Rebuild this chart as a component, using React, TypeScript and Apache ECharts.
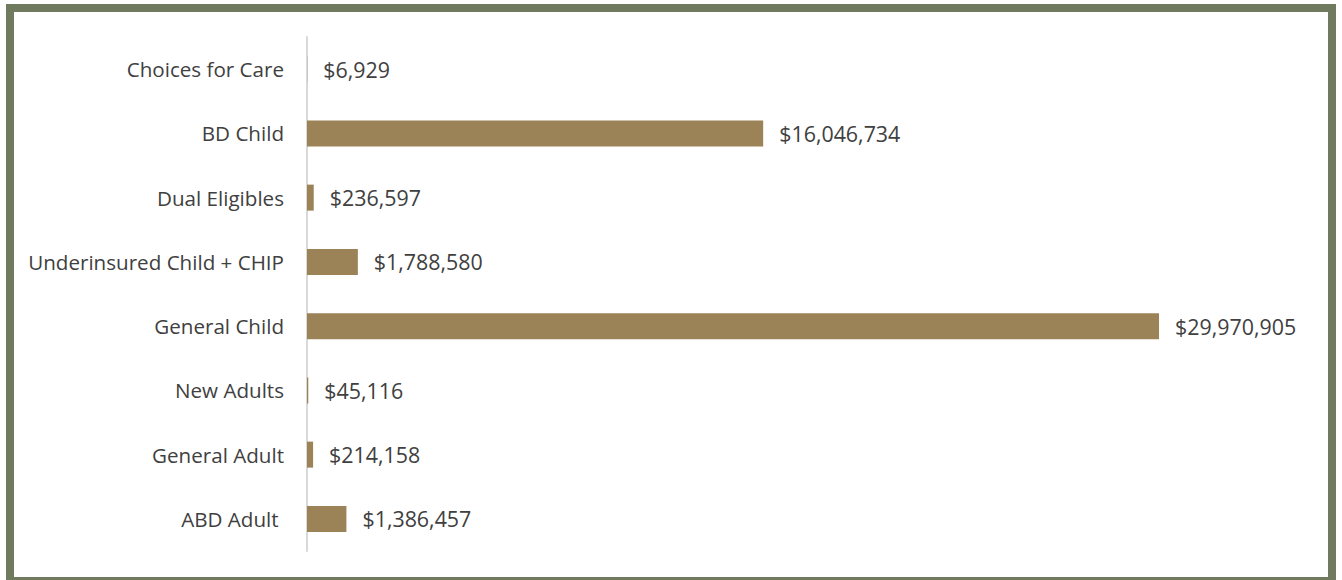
import React, { useEffect, useRef } from "react";
import * as echarts from "echarts";

const categories = [
  "Choices for Care",
  "BD Child",
  "Dual Eligibles",
  "Underinsured Child + CHIP",
  "General Child",
  "New Adults",
  "General Adult",
  "ABD Adult ",
];
const values = [6929, 16046734, 236597, 1788580, 29970905, 45116, 214158, 1386457];

const fmt = (v: number) => "$" + v.toLocaleString("en-US");

export default function App() {
  const ref = useRef<HTMLDivElement>(null);
  useEffect(() => {
    const chart = echarts.init(ref.current!, undefined, { renderer: "svg" });
    chart.setOption({
      animation: false,
      backgroundColor: "#ffffff",
      textStyle: { fontFamily: "Open Sans" },
      graphic: [
        {
          type: "rect",
          shape: { x: 10, y: 8, width: 1322, height: 573 },
          style: { fill: "none", stroke: "#6f7a5f", lineWidth: 8 },
          silent: true,
        },
      ],
      grid: { left: 307, right: 40, top: 37, bottom: 29 },
      xAxis: {
        type: "value",
        min: 0,
        max: 35000000,
        show: false,
      },
      yAxis: {
        type: "category",
        data: categories,
        inverse: true,
        axisLine: { show: true, lineStyle: { color: "#d9d9d9", width: 2 } },
        axisTick: { show: false },
        axisLabel: {
          color: "#404040",
          fontSize: 20.6,
          margin: 23,
          fontFamily: "Open Sans",
        },
      },
      series: [
        {
          type: "bar",
          data: values,
          barWidth: 26,
          itemStyle: { color: "#9c8257" },
          label: {
            show: true,
            position: "right",
            distance: 16,
            color: "#404040",
            fontSize: 21.4,
            fontFamily: "Open Sans",
            formatter: (p: any) => fmt(p.value),
          },
        },
      ],
    });
    return () => chart.dispose();
  }, []);
  return (
    <div
      ref={ref}
      style={{ position: "absolute", left: 0, top: 0, width: 1342, height: 580 }}
    />
  );
}
